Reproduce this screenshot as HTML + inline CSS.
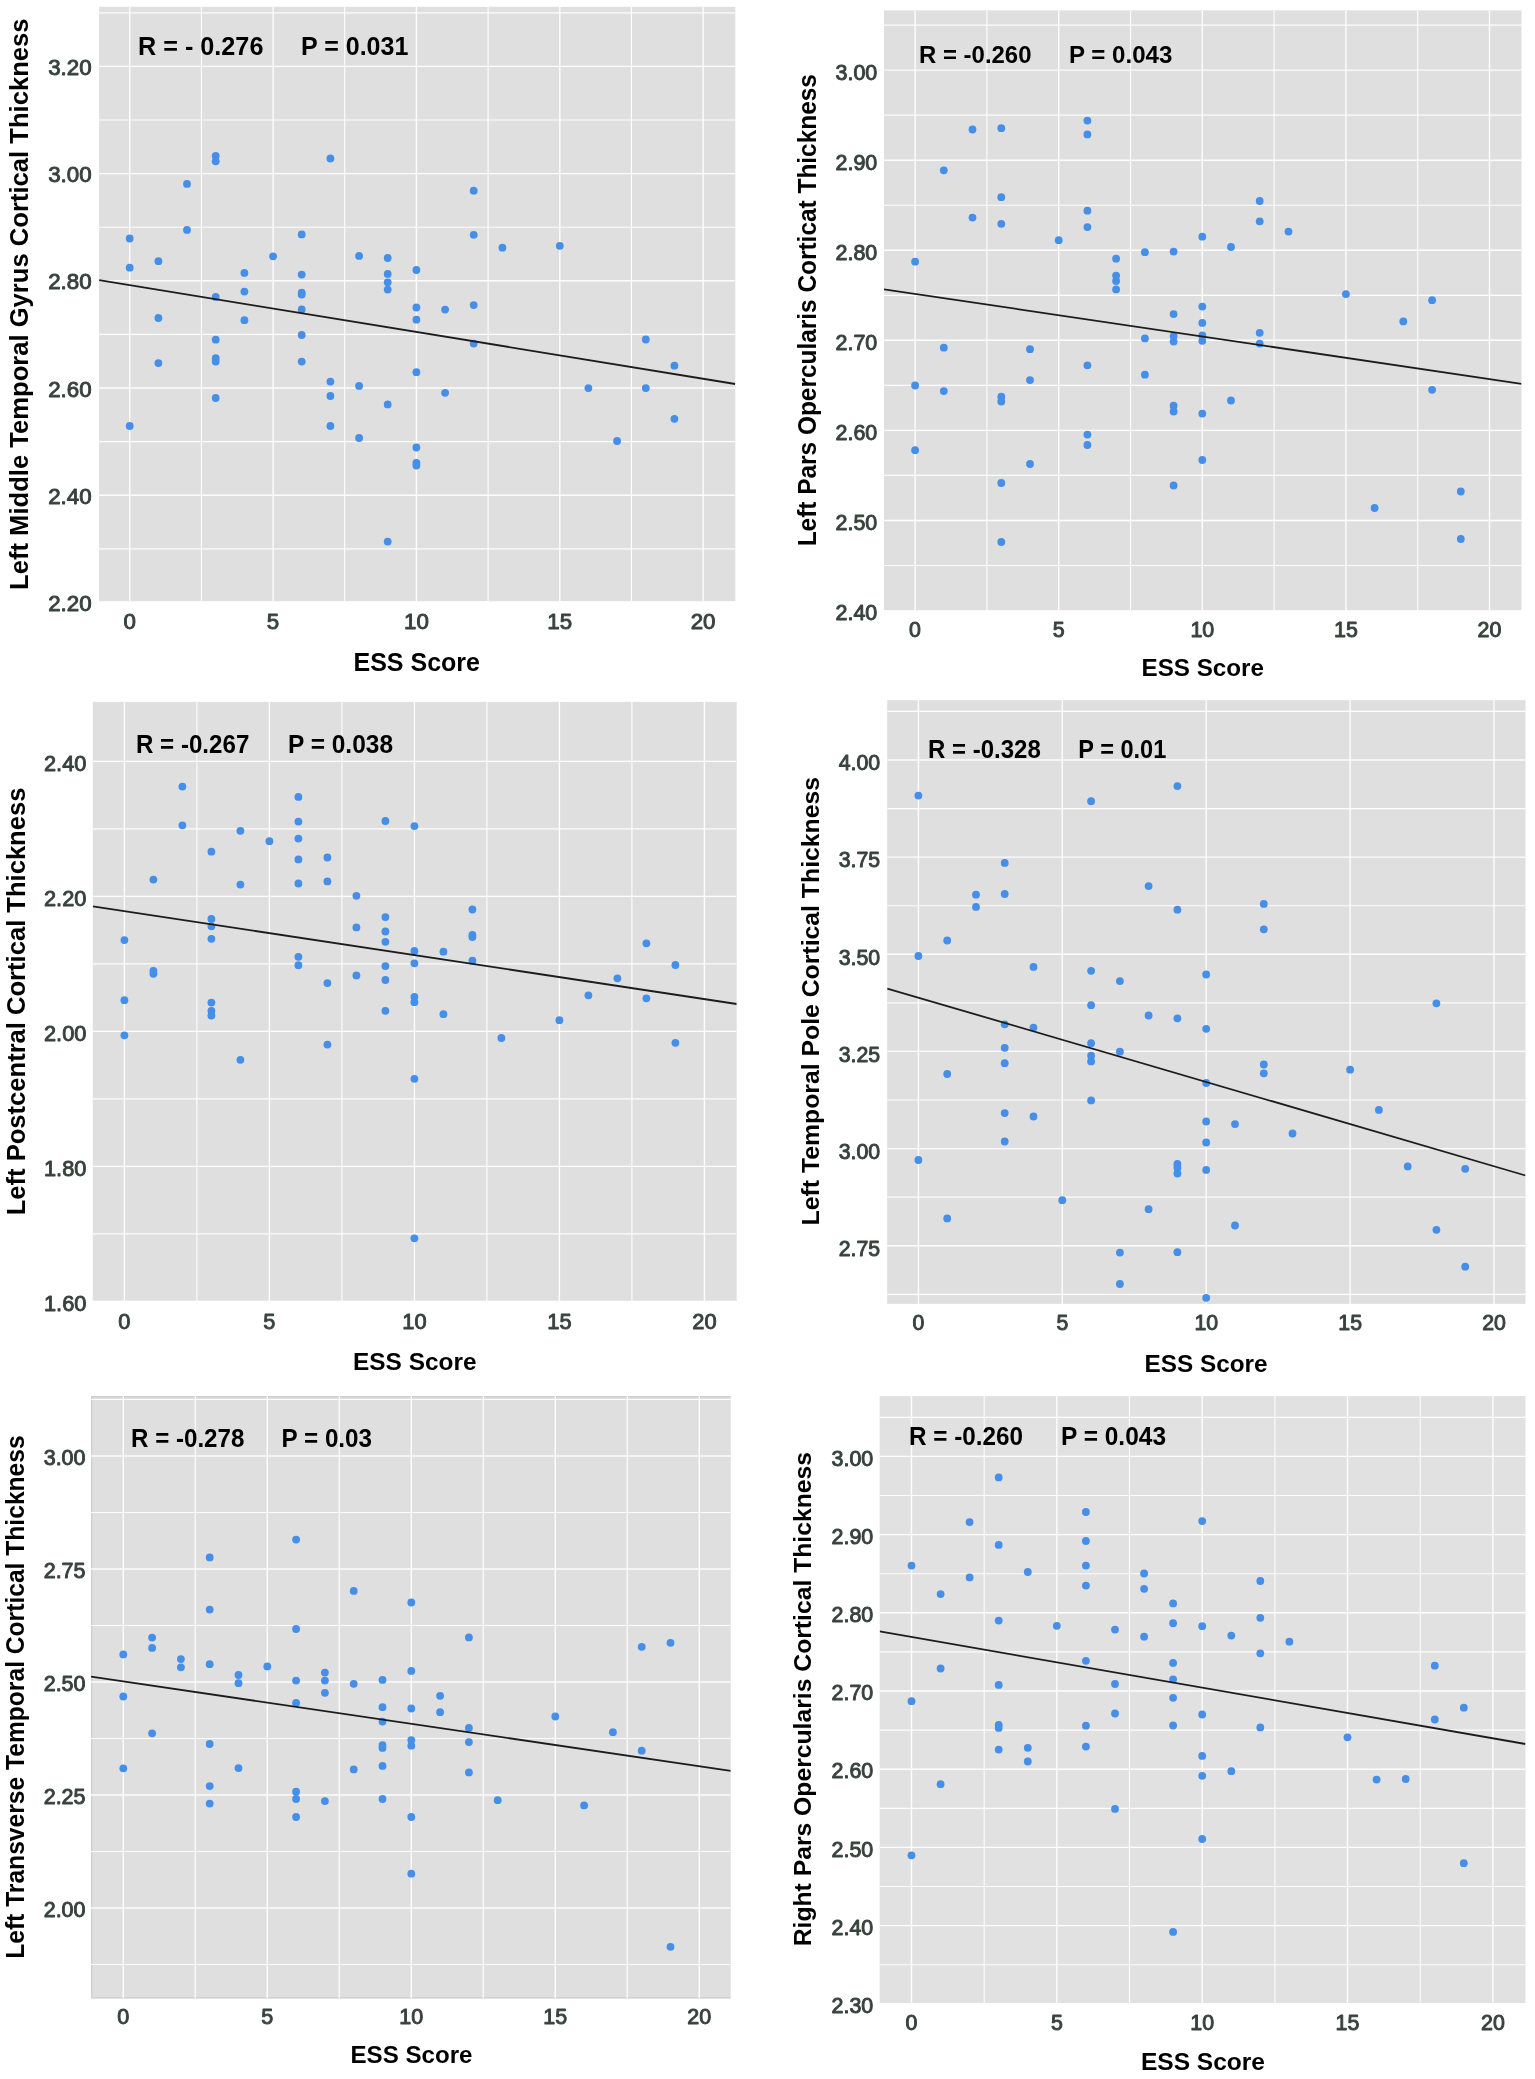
<!DOCTYPE html>
<html lang="en"><head><meta charset="utf-8"><title>ESS Score vs Cortical Thickness</title>
<style>html,body{margin:0;padding:0;background:#fff}svg{display:block;filter:blur(.45px)}text{font-family:"Liberation Sans",sans-serif}.t{fill:#38423d;stroke:#38423d;stroke-width:.95px;stroke-linejoin:round}.b{font-weight:700;fill:#000}.gM{stroke:#fdfdfd;stroke-width:1.4px}.gm{stroke:#fdfdfd;stroke-width:1.15px}.p circle{fill:#458fe9}.l{stroke:#1c1c1c;stroke-width:1.8px}</style></head><body>
<svg role="img" aria-label="Scatter plots of ESS Score versus cortical thickness" width="1535" height="2079" viewBox="0 0 1535 2079">
<rect width="1535" height="2079" fill="#fff"/>
<g id="panel1">
<clipPath id="c0"><rect x="99.1" y="6.8" width="636.2" height="594.4"/></clipPath>
<rect x="99.1" y="6.8" width="636.2" height="594.4" fill="#dfdfdf"/>
<g clip-path="url(#c0)">
<path class="gm" d="M99.1 12.8H735.3M99.1 120H735.3M99.1 227.2H735.3M99.1 334.4H735.3M99.1 441.6H735.3M99.1 548.8H735.3M201.4 6.8V601.2M344.7 6.8V601.2M488.1 6.8V601.2M631.4 6.8V601.2" fill="none"/>
<path class="gM" d="M99.1 66.4H735.3M99.1 173.6H735.3M99.1 280.8H735.3M99.1 388H735.3M99.1 495.2H735.3M99.1 602.4H735.3M129.7 6.8V601.2M273.1 6.8V601.2M416.4 6.8V601.2M559.8 6.8V601.2M703.1 6.8V601.2" fill="none"/>
<g class="p">
<circle cx="129.7" cy="238.5" r="3.9"/>
<circle cx="129.7" cy="267.7" r="3.9"/>
<circle cx="129.7" cy="426" r="3.9"/>
<circle cx="158.4" cy="261.2" r="3.9"/>
<circle cx="158.4" cy="318" r="3.9"/>
<circle cx="158.4" cy="363.1" r="3.9"/>
<circle cx="187" cy="183.9" r="3.9"/>
<circle cx="187" cy="229.9" r="3.9"/>
<circle cx="215.7" cy="155.9" r="3.9"/>
<circle cx="215.7" cy="161.3" r="3.9"/>
<circle cx="215.7" cy="296.9" r="3.9"/>
<circle cx="215.7" cy="339.7" r="3.9"/>
<circle cx="215.7" cy="358.2" r="3.9"/>
<circle cx="215.7" cy="361.6" r="3.9"/>
<circle cx="215.7" cy="398" r="3.9"/>
<circle cx="244.4" cy="272.9" r="3.9"/>
<circle cx="244.4" cy="291.6" r="3.9"/>
<circle cx="244.4" cy="320.2" r="3.9"/>
<circle cx="273.1" cy="256.3" r="3.9"/>
<circle cx="301.7" cy="234.4" r="3.9"/>
<circle cx="301.7" cy="274.6" r="3.9"/>
<circle cx="301.7" cy="292.6" r="3.9"/>
<circle cx="301.7" cy="294.6" r="3.9"/>
<circle cx="301.7" cy="309.4" r="3.9"/>
<circle cx="301.7" cy="335" r="3.9"/>
<circle cx="301.7" cy="361.6" r="3.9"/>
<circle cx="330.4" cy="158.5" r="3.9"/>
<circle cx="330.4" cy="381.6" r="3.9"/>
<circle cx="330.4" cy="396" r="3.9"/>
<circle cx="330.4" cy="426" r="3.9"/>
<circle cx="359.1" cy="255.9" r="3.9"/>
<circle cx="359.1" cy="385.9" r="3.9"/>
<circle cx="359.1" cy="438" r="3.9"/>
<circle cx="387.7" cy="258" r="3.9"/>
<circle cx="387.7" cy="273.9" r="3.9"/>
<circle cx="387.7" cy="282.3" r="3.9"/>
<circle cx="387.7" cy="289.6" r="3.9"/>
<circle cx="387.7" cy="404.4" r="3.9"/>
<circle cx="387.7" cy="541.6" r="3.9"/>
<circle cx="416.4" cy="270" r="3.9"/>
<circle cx="416.4" cy="307.5" r="3.9"/>
<circle cx="416.4" cy="319.7" r="3.9"/>
<circle cx="416.4" cy="372.2" r="3.9"/>
<circle cx="416.4" cy="447.5" r="3.9"/>
<circle cx="416.4" cy="463" r="3.9"/>
<circle cx="416.4" cy="465.5" r="3.9"/>
<circle cx="445.1" cy="309.6" r="3.9"/>
<circle cx="445.1" cy="392.8" r="3.9"/>
<circle cx="473.7" cy="190.7" r="3.9"/>
<circle cx="473.7" cy="234.8" r="3.9"/>
<circle cx="473.7" cy="305.1" r="3.9"/>
<circle cx="473.7" cy="343.6" r="3.9"/>
<circle cx="502.4" cy="247.7" r="3.9"/>
<circle cx="559.8" cy="245.8" r="3.9"/>
<circle cx="588.4" cy="388.1" r="3.9"/>
<circle cx="617.1" cy="441" r="3.9"/>
<circle cx="645.8" cy="339.5" r="3.9"/>
<circle cx="645.8" cy="388.1" r="3.9"/>
<circle cx="674.4" cy="365.7" r="3.9"/>
<circle cx="674.4" cy="418.8" r="3.9"/>
</g>
<line class="l" x1="99.1" y1="280.1" x2="735.3" y2="384"/>
</g>
<text class="t" x="48.2" y="75" font-size="22.3" textLength="43.4" lengthAdjust="spacingAndGlyphs">3.20</text>
<text class="t" x="48.2" y="182.2" font-size="22.3" textLength="43.4" lengthAdjust="spacingAndGlyphs">3.00</text>
<text class="t" x="48.2" y="289.4" font-size="22.3" textLength="43.4" lengthAdjust="spacingAndGlyphs">2.80</text>
<text class="t" x="48.2" y="396.6" font-size="22.3" textLength="43.4" lengthAdjust="spacingAndGlyphs">2.60</text>
<text class="t" x="48.2" y="503.8" font-size="22.3" textLength="43.4" lengthAdjust="spacingAndGlyphs">2.40</text>
<text class="t" x="48.2" y="611" font-size="22.3" textLength="43.4" lengthAdjust="spacingAndGlyphs">2.20</text>
<text class="t" x="123.5" y="628.6" font-size="22.3" textLength="12.4" lengthAdjust="spacingAndGlyphs">0</text>
<text class="t" x="266.8" y="628.6" font-size="22.3" textLength="12.4" lengthAdjust="spacingAndGlyphs">5</text>
<text class="t" x="404" y="628.6" font-size="22.3" textLength="24.8" lengthAdjust="spacingAndGlyphs">10</text>
<text class="t" x="547.3" y="628.6" font-size="22.3" textLength="24.8" lengthAdjust="spacingAndGlyphs">15</text>
<text class="t" x="690.7" y="628.6" font-size="22.3" textLength="24.8" lengthAdjust="spacingAndGlyphs">20</text>
<text class="b" transform="translate(28 590) rotate(-90)" font-size="26.5" textLength="571.5" lengthAdjust="spacingAndGlyphs">Left Middle Temporal Gyrus Cortical Thickness</text>
<text class="b" x="353.5" y="671" font-size="25" textLength="126.5" lengthAdjust="spacingAndGlyphs">ESS Score</text>
<text class="b" x="138" y="55.3" font-size="25.2" textLength="125.4" lengthAdjust="spacingAndGlyphs">R = - 0.276</text>
<text class="b" x="301" y="55.3" font-size="25" textLength="107.3" lengthAdjust="spacingAndGlyphs">P = 0.031</text>
</g>
<g id="panel2">
<clipPath id="c1"><rect x="884" y="10.4" width="637.5" height="599.8"/></clipPath>
<rect x="884" y="10.4" width="637.5" height="599.8" fill="#dfdfdf"/>
<g clip-path="url(#c1)">
<path class="gm" d="M884 25.1H1521.5M884 115.1H1521.5M884 205.2H1521.5M884 295.3H1521.5M884 385.4H1521.5M884 475.4H1521.5M884 565.5H1521.5M986.9 10.4V610.2M1130.5 10.4V610.2M1274.1 10.4V610.2M1417.7 10.4V610.2" fill="none"/>
<path class="gM" d="M884 70.1H1521.5M884 160.2H1521.5M884 250.3H1521.5M884 340.3H1521.5M884 430.4H1521.5M884 520.5H1521.5M884 610.6H1521.5M915.1 10.4V610.2M1058.7 10.4V610.2M1202.3 10.4V610.2M1345.9 10.4V610.2M1489.5 10.4V610.2" fill="none"/>
<g class="p">
<circle cx="915.1" cy="261.7" r="3.9"/>
<circle cx="915.1" cy="385.5" r="3.9"/>
<circle cx="915.1" cy="450.2" r="3.9"/>
<circle cx="943.8" cy="170.3" r="3.9"/>
<circle cx="943.8" cy="347.7" r="3.9"/>
<circle cx="943.8" cy="391.1" r="3.9"/>
<circle cx="972.5" cy="129.5" r="3.9"/>
<circle cx="972.5" cy="217.6" r="3.9"/>
<circle cx="1001.3" cy="128.2" r="3.9"/>
<circle cx="1001.3" cy="197.2" r="3.9"/>
<circle cx="1001.3" cy="223.8" r="3.9"/>
<circle cx="1001.3" cy="396.7" r="3.9"/>
<circle cx="1001.3" cy="401.5" r="3.9"/>
<circle cx="1001.3" cy="483" r="3.9"/>
<circle cx="1001.3" cy="542" r="3.9"/>
<circle cx="1030" cy="349.2" r="3.9"/>
<circle cx="1030" cy="380.1" r="3.9"/>
<circle cx="1030" cy="464" r="3.9"/>
<circle cx="1058.7" cy="240.2" r="3.9"/>
<circle cx="1087.4" cy="120.6" r="3.9"/>
<circle cx="1087.4" cy="134.4" r="3.9"/>
<circle cx="1087.4" cy="210.7" r="3.9"/>
<circle cx="1087.4" cy="227.1" r="3.9"/>
<circle cx="1087.4" cy="365.3" r="3.9"/>
<circle cx="1087.4" cy="434.6" r="3.9"/>
<circle cx="1087.4" cy="445" r="3.9"/>
<circle cx="1116.1" cy="258.7" r="3.9"/>
<circle cx="1116.1" cy="275.6" r="3.9"/>
<circle cx="1116.1" cy="281" r="3.9"/>
<circle cx="1116.1" cy="289.4" r="3.9"/>
<circle cx="1144.9" cy="252.2" r="3.9"/>
<circle cx="1144.9" cy="338.4" r="3.9"/>
<circle cx="1144.9" cy="374.7" r="3.9"/>
<circle cx="1173.6" cy="251.6" r="3.9"/>
<circle cx="1173.6" cy="314.1" r="3.9"/>
<circle cx="1173.6" cy="336.1" r="3.9"/>
<circle cx="1173.6" cy="341.6" r="3.9"/>
<circle cx="1173.6" cy="405.7" r="3.9"/>
<circle cx="1173.6" cy="411.5" r="3.9"/>
<circle cx="1173.6" cy="485.5" r="3.9"/>
<circle cx="1202.3" cy="236.7" r="3.9"/>
<circle cx="1202.3" cy="306.6" r="3.9"/>
<circle cx="1202.3" cy="322.9" r="3.9"/>
<circle cx="1202.3" cy="335.4" r="3.9"/>
<circle cx="1202.3" cy="340.8" r="3.9"/>
<circle cx="1202.3" cy="413.6" r="3.9"/>
<circle cx="1202.3" cy="460" r="3.9"/>
<circle cx="1231" cy="247" r="3.9"/>
<circle cx="1231" cy="400.5" r="3.9"/>
<circle cx="1259.7" cy="201" r="3.9"/>
<circle cx="1259.7" cy="221.3" r="3.9"/>
<circle cx="1259.7" cy="332.8" r="3.9"/>
<circle cx="1259.7" cy="343.6" r="3.9"/>
<circle cx="1288.5" cy="231.6" r="3.9"/>
<circle cx="1345.9" cy="294.1" r="3.9"/>
<circle cx="1374.6" cy="508" r="3.9"/>
<circle cx="1403.3" cy="321.4" r="3.9"/>
<circle cx="1432.1" cy="300.2" r="3.9"/>
<circle cx="1432.1" cy="389.8" r="3.9"/>
<circle cx="1460.8" cy="491.5" r="3.9"/>
<circle cx="1460.8" cy="539" r="3.9"/>
</g>
<line class="l" x1="884" y1="289.3" x2="1521.5" y2="383.8"/>
</g>
<text class="t" x="835.6" y="79.6" font-size="21.4" textLength="41.7" lengthAdjust="spacingAndGlyphs">3.00</text>
<text class="t" x="835.6" y="169.7" font-size="21.4" textLength="41.7" lengthAdjust="spacingAndGlyphs">2.90</text>
<text class="t" x="835.6" y="259.8" font-size="21.4" textLength="41.7" lengthAdjust="spacingAndGlyphs">2.80</text>
<text class="t" x="835.6" y="349.8" font-size="21.4" textLength="41.7" lengthAdjust="spacingAndGlyphs">2.70</text>
<text class="t" x="835.6" y="439.9" font-size="21.4" textLength="41.7" lengthAdjust="spacingAndGlyphs">2.60</text>
<text class="t" x="835.6" y="530" font-size="21.4" textLength="41.7" lengthAdjust="spacingAndGlyphs">2.50</text>
<text class="t" x="835.6" y="620.1" font-size="21.4" textLength="41.7" lengthAdjust="spacingAndGlyphs">2.40</text>
<text class="t" x="909.1" y="636.5" font-size="21.4" textLength="11.9" lengthAdjust="spacingAndGlyphs">0</text>
<text class="t" x="1052.7" y="636.5" font-size="21.4" textLength="11.9" lengthAdjust="spacingAndGlyphs">5</text>
<text class="t" x="1190.4" y="636.5" font-size="21.4" textLength="23.8" lengthAdjust="spacingAndGlyphs">10</text>
<text class="t" x="1334" y="636.5" font-size="21.4" textLength="23.8" lengthAdjust="spacingAndGlyphs">15</text>
<text class="t" x="1477.6" y="636.5" font-size="21.4" textLength="23.8" lengthAdjust="spacingAndGlyphs">20</text>
<text class="b" transform="translate(816.2 546.3) rotate(-90)" font-size="25.3" textLength="472.2" lengthAdjust="spacingAndGlyphs">Left Pars Opercularis Corticat Thickness</text>
<text class="b" x="1141.5" y="676" font-size="24.3" textLength="122.5" lengthAdjust="spacingAndGlyphs">ESS Score</text>
<text class="b" x="919" y="63" font-size="24.2" textLength="112.5" lengthAdjust="spacingAndGlyphs">R = -0.260</text>
<text class="b" x="1069" y="63" font-size="24.2" textLength="103.3" lengthAdjust="spacingAndGlyphs">P = 0.043</text>
</g>
<g id="panel3">
<clipPath id="c2"><rect x="92.8" y="701.9" width="643.9" height="599.1"/></clipPath>
<rect x="92.8" y="701.9" width="643.9" height="599.1" fill="#dfdfdf"/>
<g clip-path="url(#c2)">
<path class="gm" d="M92.8 828.9H736.7M92.8 963.9H736.7M92.8 1098.9H736.7M92.8 1233.9H736.7M196.9 701.9V1301M341.9 701.9V1301M486.9 701.9V1301M631.9 701.9V1301" fill="none"/>
<path class="gM" d="M92.8 761.4H736.7M92.8 896.4H736.7M92.8 1031.4H736.7M92.8 1166.4H736.7M92.8 1301.4H736.7M124.4 701.9V1301M269.4 701.9V1301M414.4 701.9V1301M559.4 701.9V1301M704.4 701.9V1301" fill="none"/>
<g class="p">
<circle cx="124.4" cy="940.1" r="3.9"/>
<circle cx="124.4" cy="1000.2" r="3.9"/>
<circle cx="124.4" cy="1035.3" r="3.9"/>
<circle cx="153.4" cy="879.6" r="3.9"/>
<circle cx="153.4" cy="970.8" r="3.9"/>
<circle cx="153.4" cy="973.8" r="3.9"/>
<circle cx="182.4" cy="786.6" r="3.9"/>
<circle cx="182.4" cy="825.3" r="3.9"/>
<circle cx="211.4" cy="851.7" r="3.9"/>
<circle cx="211.4" cy="919" r="3.9"/>
<circle cx="211.4" cy="926.3" r="3.9"/>
<circle cx="211.4" cy="938.8" r="3.9"/>
<circle cx="211.4" cy="1002.6" r="3.9"/>
<circle cx="211.4" cy="1010.8" r="3.9"/>
<circle cx="211.4" cy="1015.5" r="3.9"/>
<circle cx="240.4" cy="830.8" r="3.9"/>
<circle cx="240.4" cy="884.6" r="3.9"/>
<circle cx="240.4" cy="1059.8" r="3.9"/>
<circle cx="269.4" cy="841.2" r="3.9"/>
<circle cx="298.4" cy="796.9" r="3.9"/>
<circle cx="298.4" cy="821.6" r="3.9"/>
<circle cx="298.4" cy="838.6" r="3.9"/>
<circle cx="298.4" cy="859.4" r="3.9"/>
<circle cx="298.4" cy="883.5" r="3.9"/>
<circle cx="298.4" cy="956.8" r="3.9"/>
<circle cx="298.4" cy="965.2" r="3.9"/>
<circle cx="327.4" cy="857.5" r="3.9"/>
<circle cx="327.4" cy="881.4" r="3.9"/>
<circle cx="327.4" cy="983.1" r="3.9"/>
<circle cx="327.4" cy="1044.6" r="3.9"/>
<circle cx="356.4" cy="895.8" r="3.9"/>
<circle cx="356.4" cy="927.4" r="3.9"/>
<circle cx="356.4" cy="975.5" r="3.9"/>
<circle cx="385.4" cy="821" r="3.9"/>
<circle cx="385.4" cy="917.1" r="3.9"/>
<circle cx="385.4" cy="931.5" r="3.9"/>
<circle cx="385.4" cy="941.8" r="3.9"/>
<circle cx="385.4" cy="966.1" r="3.9"/>
<circle cx="385.4" cy="980" r="3.9"/>
<circle cx="385.4" cy="1010.8" r="3.9"/>
<circle cx="414.4" cy="826.1" r="3.9"/>
<circle cx="414.4" cy="951" r="3.9"/>
<circle cx="414.4" cy="963.3" r="3.9"/>
<circle cx="414.4" cy="996.8" r="3.9"/>
<circle cx="414.4" cy="1002.2" r="3.9"/>
<circle cx="414.4" cy="1078.8" r="3.9"/>
<circle cx="414.4" cy="1238.3" r="3.9"/>
<circle cx="443.4" cy="951.7" r="3.9"/>
<circle cx="443.4" cy="1014.2" r="3.9"/>
<circle cx="472.4" cy="909.5" r="3.9"/>
<circle cx="472.4" cy="935" r="3.9"/>
<circle cx="472.4" cy="937" r="3.9"/>
<circle cx="472.4" cy="960.7" r="3.9"/>
<circle cx="501.4" cy="1038" r="3.9"/>
<circle cx="559.4" cy="1020.2" r="3.9"/>
<circle cx="588.4" cy="995.3" r="3.9"/>
<circle cx="617.4" cy="978.3" r="3.9"/>
<circle cx="646.4" cy="943.3" r="3.9"/>
<circle cx="646.4" cy="998.3" r="3.9"/>
<circle cx="675.4" cy="965" r="3.9"/>
<circle cx="675.4" cy="1042.8" r="3.9"/>
</g>
<line class="l" x1="92.8" y1="906.4" x2="736.7" y2="1004"/>
</g>
<text class="t" x="44" y="771" font-size="22.6" textLength="42.4" lengthAdjust="spacingAndGlyphs">2.40</text>
<text class="t" x="44" y="906" font-size="22.6" textLength="42.4" lengthAdjust="spacingAndGlyphs">2.20</text>
<text class="t" x="44" y="1041" font-size="22.6" textLength="42.4" lengthAdjust="spacingAndGlyphs">2.00</text>
<text class="t" x="44" y="1176" font-size="22.6" textLength="42.4" lengthAdjust="spacingAndGlyphs">1.80</text>
<text class="t" x="44" y="1311" font-size="22.6" textLength="42.4" lengthAdjust="spacingAndGlyphs">1.60</text>
<text class="t" x="118.3" y="1328.9" font-size="22.6" textLength="12.1" lengthAdjust="spacingAndGlyphs">0</text>
<text class="t" x="263.3" y="1328.9" font-size="22.6" textLength="12.1" lengthAdjust="spacingAndGlyphs">5</text>
<text class="t" x="402.3" y="1328.9" font-size="22.6" textLength="24.3" lengthAdjust="spacingAndGlyphs">10</text>
<text class="t" x="547.3" y="1328.9" font-size="22.6" textLength="24.3" lengthAdjust="spacingAndGlyphs">15</text>
<text class="t" x="692.3" y="1328.9" font-size="22.6" textLength="24.3" lengthAdjust="spacingAndGlyphs">20</text>
<text class="b" transform="translate(25.3 1215.3) rotate(-90)" font-size="25.6" textLength="427.7" lengthAdjust="spacingAndGlyphs">Left Postcentral Cortical Thickness</text>
<text class="b" x="353" y="1369.9" font-size="24.5" textLength="123.5" lengthAdjust="spacingAndGlyphs">ESS Score</text>
<text class="b" x="136" y="753.2" font-size="26" textLength="113.3" lengthAdjust="spacingAndGlyphs">R = -0.267</text>
<text class="b" x="288" y="753.2" font-size="26" textLength="105" lengthAdjust="spacingAndGlyphs">P = 0.038</text>
</g>
<g id="panel4">
<clipPath id="c3"><rect x="887.2" y="700.2" width="638.3" height="603.7"/></clipPath>
<rect x="887.2" y="700.2" width="638.3" height="603.7" fill="#dfdfdf"/>
<g clip-path="url(#c3)">
<path class="gm" d="M887.2 711.4H1525.5M887.2 808.6H1525.5M887.2 905.7H1525.5M887.2 1002.8H1525.5M887.2 1100H1525.5M887.2 1197.1H1525.5M887.2 1294.3H1525.5" fill="none"/>
<path class="gM" d="M887.2 760H1525.5M887.2 857.1H1525.5M887.2 954.3H1525.5M887.2 1051.4H1525.5M887.2 1148.6H1525.5M887.2 1245.7H1525.5M918.4 700.2V1303.9M1062.3 700.2V1303.9M1206.2 700.2V1303.9M1350.1 700.2V1303.9M1494 700.2V1303.9" fill="none"/>
<g class="p">
<circle cx="918.4" cy="795.6" r="3.9"/>
<circle cx="918.4" cy="956" r="3.9"/>
<circle cx="918.4" cy="1160" r="3.9"/>
<circle cx="947.2" cy="940.5" r="3.9"/>
<circle cx="947.2" cy="1074" r="3.9"/>
<circle cx="947.2" cy="1218.4" r="3.9"/>
<circle cx="976" cy="894.7" r="3.9"/>
<circle cx="976" cy="906.9" r="3.9"/>
<circle cx="1004.7" cy="862.9" r="3.9"/>
<circle cx="1004.7" cy="894" r="3.9"/>
<circle cx="1004.7" cy="1024.3" r="3.9"/>
<circle cx="1004.7" cy="1047.8" r="3.9"/>
<circle cx="1004.7" cy="1063.2" r="3.9"/>
<circle cx="1004.7" cy="1113.1" r="3.9"/>
<circle cx="1004.7" cy="1141.5" r="3.9"/>
<circle cx="1033.5" cy="966.9" r="3.9"/>
<circle cx="1033.5" cy="1027.6" r="3.9"/>
<circle cx="1033.5" cy="1116.5" r="3.9"/>
<circle cx="1062.3" cy="1200.2" r="3.9"/>
<circle cx="1091.1" cy="801.2" r="3.9"/>
<circle cx="1091.1" cy="970.8" r="3.9"/>
<circle cx="1091.1" cy="1005.2" r="3.9"/>
<circle cx="1091.1" cy="1043.2" r="3.9"/>
<circle cx="1091.1" cy="1055.7" r="3.9"/>
<circle cx="1091.1" cy="1061.4" r="3.9"/>
<circle cx="1091.1" cy="1100.4" r="3.9"/>
<circle cx="1119.9" cy="981.1" r="3.9"/>
<circle cx="1119.9" cy="1051.7" r="3.9"/>
<circle cx="1119.9" cy="1252.6" r="3.9"/>
<circle cx="1119.9" cy="1284" r="3.9"/>
<circle cx="1148.6" cy="886.1" r="3.9"/>
<circle cx="1148.6" cy="1015.5" r="3.9"/>
<circle cx="1148.6" cy="1209.2" r="3.9"/>
<circle cx="1177.4" cy="786.1" r="3.9"/>
<circle cx="1177.4" cy="909.7" r="3.9"/>
<circle cx="1177.4" cy="1018.3" r="3.9"/>
<circle cx="1177.4" cy="1164" r="3.9"/>
<circle cx="1177.4" cy="1167.7" r="3.9"/>
<circle cx="1177.4" cy="1173.5" r="3.9"/>
<circle cx="1177.4" cy="1252.2" r="3.9"/>
<circle cx="1206.2" cy="974.5" r="3.9"/>
<circle cx="1206.2" cy="1028.8" r="3.9"/>
<circle cx="1206.2" cy="1083" r="3.9"/>
<circle cx="1206.2" cy="1121.5" r="3.9"/>
<circle cx="1206.2" cy="1142.5" r="3.9"/>
<circle cx="1206.2" cy="1169.9" r="3.9"/>
<circle cx="1206.2" cy="1297.8" r="3.9"/>
<circle cx="1235" cy="1124.1" r="3.9"/>
<circle cx="1235" cy="1225.5" r="3.9"/>
<circle cx="1263.8" cy="903.9" r="3.9"/>
<circle cx="1263.8" cy="929.3" r="3.9"/>
<circle cx="1263.8" cy="1064.5" r="3.9"/>
<circle cx="1263.8" cy="1073.3" r="3.9"/>
<circle cx="1292.5" cy="1133.5" r="3.9"/>
<circle cx="1350.1" cy="1069.7" r="3.9"/>
<circle cx="1378.9" cy="1109.9" r="3.9"/>
<circle cx="1407.7" cy="1166.4" r="3.9"/>
<circle cx="1436.4" cy="1003.3" r="3.9"/>
<circle cx="1436.4" cy="1229.8" r="3.9"/>
<circle cx="1465.2" cy="1168.8" r="3.9"/>
<circle cx="1465.2" cy="1266.7" r="3.9"/>
</g>
<line class="l" x1="887.2" y1="988.5" x2="1525.5" y2="1175.5"/>
</g>
<text class="t" x="838.8" y="770.2" font-size="21.7" textLength="41.4" lengthAdjust="spacingAndGlyphs">4.00</text>
<text class="t" x="838.8" y="867.3" font-size="21.7" textLength="41.4" lengthAdjust="spacingAndGlyphs">3.75</text>
<text class="t" x="838.8" y="964.5" font-size="21.7" textLength="41.4" lengthAdjust="spacingAndGlyphs">3.50</text>
<text class="t" x="838.8" y="1061.6" font-size="21.7" textLength="41.4" lengthAdjust="spacingAndGlyphs">3.25</text>
<text class="t" x="838.8" y="1158.8" font-size="21.7" textLength="41.4" lengthAdjust="spacingAndGlyphs">3.00</text>
<text class="t" x="838.8" y="1255.9" font-size="21.7" textLength="41.4" lengthAdjust="spacingAndGlyphs">2.75</text>
<text class="t" x="912.5" y="1330.3" font-size="21.7" textLength="11.8" lengthAdjust="spacingAndGlyphs">0</text>
<text class="t" x="1056.4" y="1330.3" font-size="21.7" textLength="11.8" lengthAdjust="spacingAndGlyphs">5</text>
<text class="t" x="1194.4" y="1330.3" font-size="21.7" textLength="23.7" lengthAdjust="spacingAndGlyphs">10</text>
<text class="t" x="1338.3" y="1330.3" font-size="21.7" textLength="23.7" lengthAdjust="spacingAndGlyphs">15</text>
<text class="t" x="1482.2" y="1330.3" font-size="21.7" textLength="23.7" lengthAdjust="spacingAndGlyphs">20</text>
<text class="b" transform="translate(819.2 1225.4) rotate(-90)" font-size="24.8" textLength="448.5" lengthAdjust="spacingAndGlyphs">Left Temporal Pole Cortical Thickness</text>
<text class="b" x="1144.5" y="1372" font-size="24.3" textLength="123" lengthAdjust="spacingAndGlyphs">ESS Score</text>
<text class="b" x="928" y="758" font-size="25.5" textLength="112.8" lengthAdjust="spacingAndGlyphs">R = -0.328</text>
<text class="b" x="1078.3" y="758" font-size="25.5" textLength="88" lengthAdjust="spacingAndGlyphs">P = 0.01</text>
</g>
<g id="panel5">
<clipPath id="c4"><rect x="91" y="1396.1" width="639.7" height="602.4"/></clipPath>
<rect x="91" y="1396.1" width="639.7" height="602.4" fill="#dfdfdf"/>
<g clip-path="url(#c4)">
<path d="M91.5 1396.1V1997.9H730.7M91 1396.6H730.7" stroke="#cfcfcf" stroke-width="1.8" fill="none"/>
<path class="gm" d="M91 1399.5H730.7M91 1512.5H730.7M91 1625.5H730.7M91 1738.5H730.7M91 1851.5H730.7M91 1964.5H730.7M195.3 1396.1V1998.5M339.3 1396.1V1998.5M483.3 1396.1V1998.5M627.3 1396.1V1998.5" fill="none"/>
<path class="gM" d="M91 1456H730.7M91 1569H730.7M91 1682H730.7M91 1795H730.7M91 1908H730.7M123.3 1396.1V1998.5M267.3 1396.1V1998.5M411.3 1396.1V1998.5M555.3 1396.1V1998.5M699.3 1396.1V1998.5" fill="none"/>
<g class="p">
<circle cx="123.3" cy="1654.4" r="3.9"/>
<circle cx="123.3" cy="1696.5" r="3.9"/>
<circle cx="123.3" cy="1768.3" r="3.9"/>
<circle cx="152.1" cy="1637.6" r="3.9"/>
<circle cx="152.1" cy="1647.9" r="3.9"/>
<circle cx="152.1" cy="1733.3" r="3.9"/>
<circle cx="180.9" cy="1659.1" r="3.9"/>
<circle cx="180.9" cy="1667.3" r="3.9"/>
<circle cx="209.7" cy="1557.4" r="3.9"/>
<circle cx="209.7" cy="1609.6" r="3.9"/>
<circle cx="209.7" cy="1664.2" r="3.9"/>
<circle cx="209.7" cy="1744" r="3.9"/>
<circle cx="209.7" cy="1786.1" r="3.9"/>
<circle cx="209.7" cy="1803.6" r="3.9"/>
<circle cx="238.5" cy="1675" r="3.9"/>
<circle cx="238.5" cy="1683.2" r="3.9"/>
<circle cx="238.5" cy="1768.1" r="3.9"/>
<circle cx="267.3" cy="1666.4" r="3.9"/>
<circle cx="296.1" cy="1539.6" r="3.9"/>
<circle cx="296.1" cy="1629" r="3.9"/>
<circle cx="296.1" cy="1680.6" r="3.9"/>
<circle cx="296.1" cy="1702.9" r="3.9"/>
<circle cx="296.1" cy="1791.7" r="3.9"/>
<circle cx="296.1" cy="1799" r="3.9"/>
<circle cx="296.1" cy="1817" r="3.9"/>
<circle cx="324.9" cy="1672.6" r="3.9"/>
<circle cx="324.9" cy="1680.6" r="3.9"/>
<circle cx="324.9" cy="1692.8" r="3.9"/>
<circle cx="324.9" cy="1801.1" r="3.9"/>
<circle cx="353.7" cy="1590.9" r="3.9"/>
<circle cx="353.7" cy="1683.8" r="3.9"/>
<circle cx="353.7" cy="1769.4" r="3.9"/>
<circle cx="382.5" cy="1679.9" r="3.9"/>
<circle cx="382.5" cy="1707.2" r="3.9"/>
<circle cx="382.5" cy="1721.6" r="3.9"/>
<circle cx="382.5" cy="1745.1" r="3.9"/>
<circle cx="382.5" cy="1747.9" r="3.9"/>
<circle cx="382.5" cy="1765.9" r="3.9"/>
<circle cx="382.5" cy="1799" r="3.9"/>
<circle cx="411.3" cy="1602.5" r="3.9"/>
<circle cx="411.3" cy="1670.9" r="3.9"/>
<circle cx="411.3" cy="1708.5" r="3.9"/>
<circle cx="411.3" cy="1740.1" r="3.9"/>
<circle cx="411.3" cy="1745.7" r="3.9"/>
<circle cx="411.3" cy="1817" r="3.9"/>
<circle cx="411.3" cy="1873.7" r="3.9"/>
<circle cx="440.1" cy="1695.8" r="3.9"/>
<circle cx="440.1" cy="1712.2" r="3.9"/>
<circle cx="468.9" cy="1637.4" r="3.9"/>
<circle cx="468.9" cy="1727.9" r="3.9"/>
<circle cx="468.9" cy="1742.1" r="3.9"/>
<circle cx="468.9" cy="1772.4" r="3.9"/>
<circle cx="497.7" cy="1800.2" r="3.9"/>
<circle cx="555.3" cy="1716.5" r="3.9"/>
<circle cx="584.1" cy="1805.4" r="3.9"/>
<circle cx="612.9" cy="1732.2" r="3.9"/>
<circle cx="641.7" cy="1646.8" r="3.9"/>
<circle cx="641.7" cy="1750.7" r="3.9"/>
<circle cx="670.5" cy="1642.8" r="3.9"/>
<circle cx="670.5" cy="1946.8" r="3.9"/>
</g>
<line class="l" x1="91" y1="1676.7" x2="730.7" y2="1770.8"/>
</g>
<text class="t" x="43.7" y="1465.2" font-size="21.5" textLength="41.8" lengthAdjust="spacingAndGlyphs">3.00</text>
<text class="t" x="43.7" y="1578.2" font-size="21.5" textLength="41.8" lengthAdjust="spacingAndGlyphs">2.75</text>
<text class="t" x="43.7" y="1691.2" font-size="21.5" textLength="41.8" lengthAdjust="spacingAndGlyphs">2.50</text>
<text class="t" x="43.7" y="1804.2" font-size="21.5" textLength="41.8" lengthAdjust="spacingAndGlyphs">2.25</text>
<text class="t" x="43.7" y="1917.2" font-size="21.5" textLength="41.8" lengthAdjust="spacingAndGlyphs">2.00</text>
<text class="t" x="117.3" y="2024.2" font-size="21.5" textLength="12" lengthAdjust="spacingAndGlyphs">0</text>
<text class="t" x="261.3" y="2024.2" font-size="21.5" textLength="12" lengthAdjust="spacingAndGlyphs">5</text>
<text class="t" x="399.3" y="2024.2" font-size="21.5" textLength="23.9" lengthAdjust="spacingAndGlyphs">10</text>
<text class="t" x="543.3" y="2024.2" font-size="21.5" textLength="23.9" lengthAdjust="spacingAndGlyphs">15</text>
<text class="t" x="687.3" y="2024.2" font-size="21.5" textLength="23.9" lengthAdjust="spacingAndGlyphs">20</text>
<text class="b" transform="translate(24.2 1958.8) rotate(-90)" font-size="25.2" textLength="523.5" lengthAdjust="spacingAndGlyphs">Left Transverse Temporal Cortical Thickness</text>
<text class="b" x="350.5" y="2063" font-size="24.3" textLength="122" lengthAdjust="spacingAndGlyphs">ESS Score</text>
<text class="b" x="131" y="1447" font-size="25.5" textLength="113.4" lengthAdjust="spacingAndGlyphs">R = -0.278</text>
<text class="b" x="281.6" y="1447" font-size="25.5" textLength="90.4" lengthAdjust="spacingAndGlyphs">P = 0.03</text>
</g>
<g id="panel6">
<clipPath id="c5"><rect x="879.7" y="1396.1" width="645.8" height="607"/></clipPath>
<rect x="879.7" y="1396.1" width="645.8" height="607" fill="#e1e1e1"/>
<g clip-path="url(#c5)">
<path class="gm" d="M879.7 1417.3H1525.5M879.7 1495.5H1525.5M879.7 1573.7H1525.5M879.7 1651.9H1525.5M879.7 1730.1H1525.5M879.7 1808.3H1525.5M879.7 1886.5H1525.5M879.7 1964.7H1525.5M984.2 1396.1V2003.1M1129.5 1396.1V2003.1M1274.9 1396.1V2003.1M1420.2 1396.1V2003.1" fill="none"/>
<path class="gM" d="M879.7 1456.4H1525.5M879.7 1534.6H1525.5M879.7 1612.8H1525.5M879.7 1691H1525.5M879.7 1769.2H1525.5M879.7 1847.4H1525.5M879.7 1925.6H1525.5M879.7 2003.8H1525.5M911.5 1396.1V2003.1M1056.8 1396.1V2003.1M1202.2 1396.1V2003.1M1347.5 1396.1V2003.1M1492.9 1396.1V2003.1" fill="none"/>
<g class="p">
<circle cx="911.5" cy="1565.6" r="3.9"/>
<circle cx="911.5" cy="1701.2" r="3.9"/>
<circle cx="911.5" cy="1855.3" r="3.9"/>
<circle cx="940.6" cy="1594.1" r="3.9"/>
<circle cx="940.6" cy="1668.5" r="3.9"/>
<circle cx="940.6" cy="1784.2" r="3.9"/>
<circle cx="969.6" cy="1522.1" r="3.9"/>
<circle cx="969.6" cy="1577.4" r="3.9"/>
<circle cx="998.7" cy="1477.4" r="3.9"/>
<circle cx="998.7" cy="1544.9" r="3.9"/>
<circle cx="998.7" cy="1620.6" r="3.9"/>
<circle cx="998.7" cy="1684.9" r="3.9"/>
<circle cx="998.7" cy="1724.9" r="3.9"/>
<circle cx="998.7" cy="1727.9" r="3.9"/>
<circle cx="998.7" cy="1749.6" r="3.9"/>
<circle cx="1027.8" cy="1572" r="3.9"/>
<circle cx="1027.8" cy="1747.8" r="3.9"/>
<circle cx="1027.8" cy="1761.5" r="3.9"/>
<circle cx="1056.8" cy="1625.8" r="3.9"/>
<circle cx="1085.9" cy="1512" r="3.9"/>
<circle cx="1085.9" cy="1541" r="3.9"/>
<circle cx="1085.9" cy="1565.6" r="3.9"/>
<circle cx="1085.9" cy="1585.6" r="3.9"/>
<circle cx="1085.9" cy="1660.8" r="3.9"/>
<circle cx="1085.9" cy="1725.7" r="3.9"/>
<circle cx="1085.9" cy="1746.6" r="3.9"/>
<circle cx="1115" cy="1629.6" r="3.9"/>
<circle cx="1115" cy="1684" r="3.9"/>
<circle cx="1115" cy="1713.5" r="3.9"/>
<circle cx="1115" cy="1808.9" r="3.9"/>
<circle cx="1144.1" cy="1573.5" r="3.9"/>
<circle cx="1144.1" cy="1588.8" r="3.9"/>
<circle cx="1144.1" cy="1636.7" r="3.9"/>
<circle cx="1173.1" cy="1603.4" r="3.9"/>
<circle cx="1173.1" cy="1623.2" r="3.9"/>
<circle cx="1173.1" cy="1662.9" r="3.9"/>
<circle cx="1173.1" cy="1679.3" r="3.9"/>
<circle cx="1173.1" cy="1697.8" r="3.9"/>
<circle cx="1173.1" cy="1725.5" r="3.9"/>
<circle cx="1173.1" cy="1931.9" r="3.9"/>
<circle cx="1202.2" cy="1521.1" r="3.9"/>
<circle cx="1202.2" cy="1626.2" r="3.9"/>
<circle cx="1202.2" cy="1714.5" r="3.9"/>
<circle cx="1202.2" cy="1755.9" r="3.9"/>
<circle cx="1202.2" cy="1775.8" r="3.9"/>
<circle cx="1202.2" cy="1839" r="3.9"/>
<circle cx="1231.3" cy="1635.6" r="3.9"/>
<circle cx="1231.3" cy="1771.2" r="3.9"/>
<circle cx="1260.3" cy="1581" r="3.9"/>
<circle cx="1260.3" cy="1617.8" r="3.9"/>
<circle cx="1260.3" cy="1653.3" r="3.9"/>
<circle cx="1260.3" cy="1727.4" r="3.9"/>
<circle cx="1289.4" cy="1641.7" r="3.9"/>
<circle cx="1347.5" cy="1737.3" r="3.9"/>
<circle cx="1376.6" cy="1779.6" r="3.9"/>
<circle cx="1405.7" cy="1779" r="3.9"/>
<circle cx="1434.8" cy="1665.7" r="3.9"/>
<circle cx="1434.8" cy="1719.5" r="3.9"/>
<circle cx="1463.8" cy="1707.7" r="3.9"/>
<circle cx="1463.8" cy="1863.2" r="3.9"/>
</g>
<line class="l" x1="879.7" y1="1631.4" x2="1525.5" y2="1744"/>
</g>
<text class="t" x="831.6" y="1465.6" font-size="21.4" textLength="41.7" lengthAdjust="spacingAndGlyphs">3.00</text>
<text class="t" x="831.6" y="1543.8" font-size="21.4" textLength="41.7" lengthAdjust="spacingAndGlyphs">2.90</text>
<text class="t" x="831.6" y="1622" font-size="21.4" textLength="41.7" lengthAdjust="spacingAndGlyphs">2.80</text>
<text class="t" x="831.6" y="1700.2" font-size="21.4" textLength="41.7" lengthAdjust="spacingAndGlyphs">2.70</text>
<text class="t" x="831.6" y="1778.4" font-size="21.4" textLength="41.7" lengthAdjust="spacingAndGlyphs">2.60</text>
<text class="t" x="831.6" y="1856.6" font-size="21.4" textLength="41.7" lengthAdjust="spacingAndGlyphs">2.50</text>
<text class="t" x="831.6" y="1934.8" font-size="21.4" textLength="41.7" lengthAdjust="spacingAndGlyphs">2.40</text>
<text class="t" x="831.6" y="2013" font-size="21.4" textLength="41.7" lengthAdjust="spacingAndGlyphs">2.30</text>
<text class="t" x="905.5" y="2029.7" font-size="21.4" textLength="11.9" lengthAdjust="spacingAndGlyphs">0</text>
<text class="t" x="1050.9" y="2029.7" font-size="21.4" textLength="11.9" lengthAdjust="spacingAndGlyphs">5</text>
<text class="t" x="1190.3" y="2029.7" font-size="21.4" textLength="23.8" lengthAdjust="spacingAndGlyphs">10</text>
<text class="t" x="1335.6" y="2029.7" font-size="21.4" textLength="23.8" lengthAdjust="spacingAndGlyphs">15</text>
<text class="t" x="1481" y="2029.7" font-size="21.4" textLength="23.8" lengthAdjust="spacingAndGlyphs">20</text>
<text class="b" transform="translate(811 1946.3) rotate(-90)" font-size="24.6" textLength="494.3" lengthAdjust="spacingAndGlyphs">Right Pars Opercularis Cortical Thickness</text>
<text class="b" x="1141" y="2070.3" font-size="24.5" textLength="124" lengthAdjust="spacingAndGlyphs">ESS Score</text>
<text class="b" x="909" y="1445" font-size="25" textLength="114.1" lengthAdjust="spacingAndGlyphs">R = -0.260</text>
<text class="b" x="1061" y="1445" font-size="25" textLength="105" lengthAdjust="spacingAndGlyphs">P = 0.043</text>
</g>
</svg></body></html>
